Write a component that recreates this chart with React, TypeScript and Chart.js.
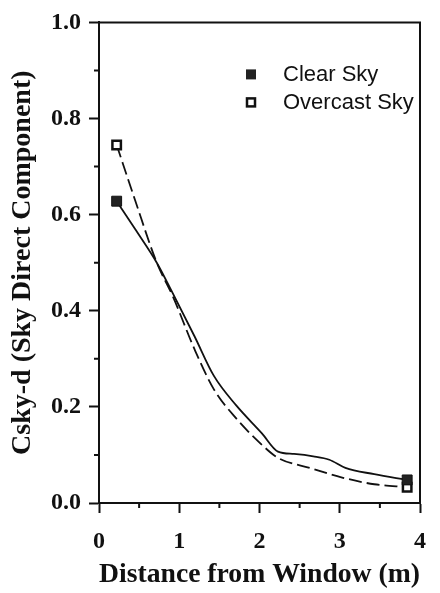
import React, { useEffect, useRef } from "react";
import { Chart, registerables } from "chart.js";

Chart.register(...registerables);

// ---- data ----
const clearX = [0.22, 0.45, 0.72, 0.92, 1.19, 1.43, 1.71, 2.03, 2.23, 2.43, 2.67, 2.87, 3.07, 3.43, 3.84];
const clearY = [0.628, 0.57, 0.5, 0.436, 0.347, 0.265, 0.203, 0.145, 0.107, 0.102, 0.097, 0.09, 0.073, 0.06, 0.048];
const overcastX = [0.22, 0.45, 0.72, 0.92, 1.19, 1.43, 1.71, 2.03, 2.23, 2.63, 3.03, 3.43, 3.84];
const overcastY = [0.745, 0.63, 0.5, 0.43, 0.32, 0.237, 0.176, 0.121, 0.094, 0.073, 0.053, 0.039, 0.033];
const seriesNames = ["Clear Sky", "Overcast Sky"];
const xMinorTicks = [0.5, 1.5, 2.5, 3.5];
const yMinorTicks = [0.1, 0.3, 0.5, 0.7, 0.9];
const xTitle = "Distance from Window (m)";
const yTitle = "Csky-d (Sky Direct Component)";

const INK = "#111";
const serif = "'Liberation Serif', 'Times New Roman', serif";
const sans = "'Liberation Sans', Arial, sans-serif";

const endpointRadius = (n: number, r: number) => Array.from({ length: n }, (_, i) => (i === 0 || i === n - 1 ? r : 0));

const decorPlugin = {
  id: "decor",
  afterDraw(chart: any) {
    const { ctx, chartArea: a, scales } = chart;
    const x = scales.x;
    const y = scales.y;
    ctx.save();
    ctx.strokeStyle = INK;
    ctx.lineWidth = 2;
    ctx.beginPath();
    ctx.moveTo(a.left, a.top);
    ctx.lineTo(a.right, a.top);
    ctx.lineTo(a.right, a.bottom);
    ctx.stroke();
    ctx.beginPath();
    for (const v of xMinorTicks) {
      const px = x.getPixelForValue(v);
      ctx.moveTo(px, a.bottom);
      ctx.lineTo(px, a.bottom + 5);
    }
    for (const v of yMinorTicks) {
      const py = y.getPixelForValue(v);
      ctx.moveTo(a.left, py);
      ctx.lineTo(a.left - 5, py);
    }
    ctx.stroke();

    // legend inside plot area
    const lx = a.left + 152;
    const ly = a.top + 52;
    const gap = 28;
    ctx.fillStyle = "#222";
    ctx.fillRect(lx - 5, ly - 5, 10, 10);
    ctx.lineWidth = 2.5;
    ctx.strokeStyle = INK;
    ctx.fillStyle = "#fff";
    ctx.fillRect(lx - 4, ly + gap - 4, 8, 8);
    ctx.strokeRect(lx - 4, ly + gap - 4, 8, 8);
    ctx.fillStyle = INK;
    ctx.font = `22px ${sans}`;
    ctx.textBaseline = "middle";
    ctx.textAlign = "left";
    ctx.fillText(seriesNames[0], lx + 32, ly + 1);
    ctx.fillText(seriesNames[1], lx + 32, ly + gap + 1);
    ctx.restore();
  },
};

export default function App() {
  const ref = useRef<HTMLCanvasElement | null>(null);
  useEffect(() => {
    if (!ref.current) return;
    const chart = new Chart(ref.current, {
      type: "line",
      data: {
        datasets: [
          {
            label: seriesNames[0],
            data: clearX.map((x, i) => ({ x, y: clearY[i] })),
            borderColor: INK,
            borderWidth: 1.8,
            cubicInterpolationMode: "monotone",
            pointStyle: "rect",
            pointRadius: endpointRadius(clearX.length, 7),
            pointBackgroundColor: "#222",
            pointBorderColor: INK,
            pointBorderWidth: 1,
            fill: false,
          },
          {
            label: seriesNames[1],
            data: overcastX.map((x, i) => ({ x, y: overcastY[i] })),
            borderColor: INK,
            borderWidth: 1.8,
            borderDash: [13, 5],
            cubicInterpolationMode: "monotone",
            pointStyle: "rect",
            pointRadius: endpointRadius(overcastX.length, 6),
            pointBackgroundColor: "#fff",
            pointBorderColor: INK,
            pointBorderWidth: 2.5,
            fill: false,
          },
        ],
      },
      options: {
        responsive: false,
        animation: false,
        layout: { padding: { top: 15, right: 8, left: 0, bottom: 0 } },
        plugins: { legend: { display: false }, tooltip: { enabled: false } },
        scales: {
          x: {
            type: "linear",
            min: 0,
            max: 4,
            ticks: {
              stepSize: 1,
              color: INK,
              padding: 14,
              font: { family: serif, size: 24, weight: "bold" },
              maxRotation: 0,
            },
            grid: { drawOnChartArea: false, tickLength: 10, tickWidth: 2, tickColor: INK },
            border: { display: true, color: INK, width: 2 },
            title: {
              display: true,
              text: xTitle,
              color: INK,
              font: { family: serif, size: 28, weight: "bold" },
              padding: { top: 0, bottom: 1 },
            },
            afterFit: (s: any) => {
              s.height = 90;
            },
          },
          y: {
            type: "linear",
            min: 0,
            max: 1,
            ticks: {
              stepSize: 0.2,
              color: INK,
              padding: 8,
              font: { family: serif, size: 24, weight: "bold" },
              callback: (v: any) => Number(v).toFixed(1),
            },
            grid: { drawOnChartArea: false, tickLength: 10, tickWidth: 2, tickColor: INK },
            border: { display: true, color: INK, width: 2 },
            title: {
              display: true,
              text: yTitle,
              color: INK,
              font: { family: serif, size: 28, weight: "bold" },
              padding: { top: 6, bottom: 0 },
            },
            afterFit: (s: any) => {
              s.width = 99;
            },
          },
        },
      },
      plugins: [decorPlugin],
    });
    return () => chart.destroy();
  }, []);
  return (
    <div style={{ position: "absolute", left: 0, top: 0, width: 440, height: 593, background: "#fff" }}>
      <canvas ref={ref} width={440} height={593} />
    </div>
  );
}
